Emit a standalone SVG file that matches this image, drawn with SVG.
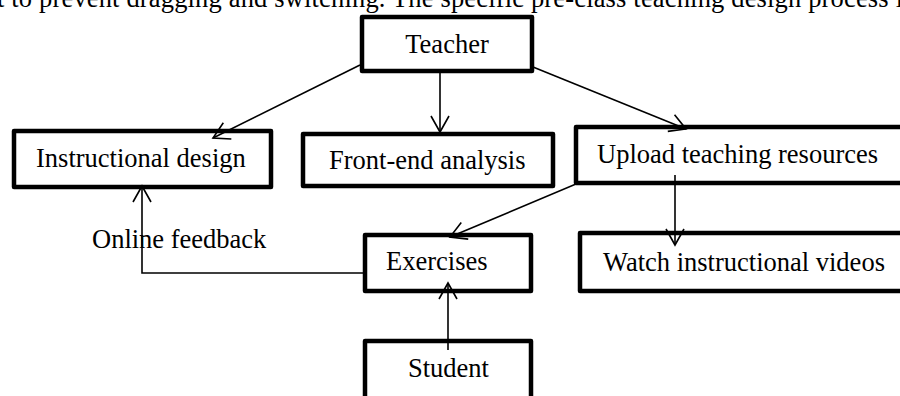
<svg xmlns="http://www.w3.org/2000/svg" width="900" height="396" viewBox="0 0 900 396">
<style>
.box{fill:#fff;stroke:#000;stroke-width:4.5;stroke-linejoin:round}
.t{font-family:"Liberation Serif","Times New Roman",serif;font-size:26.5px;fill:#000}
.c{fill:none;stroke:#000;stroke-width:1.6}
</style>
<defs>
<marker id="ah" markerUnits="userSpaceOnUse" markerWidth="22" markerHeight="22" viewBox="0 0 22 22" refX="19" refY="11" orient="auto">
<path d="M3,2 L19,11 L3,20" fill="none" stroke="#000" stroke-width="1.6"/>
</marker>
</defs>
<rect width="900" height="396" fill="#fff"/>
<text class="t" x="-3" y="7" textLength="906" lengthAdjust="spacing">t to prevent dragging and switching. The specific pre-class teaching design process i</text>
<g id="teacher"><rect class="box" x="362" y="17" width="170" height="54"/><text class="t" x="447" y="53" text-anchor="middle">Teacher</text></g>
<g id="instructional-design"><rect class="box" x="14" y="131" width="257" height="56"/><text class="t" x="36" y="167">Instructional design</text></g>
<g id="front-end-analysis"><rect class="box" x="303" y="134" width="250" height="52"/><text class="t" x="329" y="169">Front-end analysis</text></g>
<g id="upload"><rect class="box" x="576" y="127" width="340" height="56"/><text class="t" x="597" y="163">Upload teaching resources</text></g>
<g id="exercises"><rect class="box" x="365" y="235" width="166" height="56"/><text class="t" x="386" y="270">Exercises</text></g>
<g id="watch"><rect class="box" x="580" y="233" width="340" height="58"/><text class="t" x="603" y="271">Watch instructional videos</text></g>
<g id="student"><rect class="box" x="365" y="341" width="166" height="80"/><text class="t" x="408" y="377">Student</text></g>
<g id="connectors">
<line class="c" x1="360" y1="65" x2="213" y2="138" marker-end="url(#ah)"/>
<line class="c" x1="440" y1="73" x2="440" y2="132" marker-end="url(#ah)"/>
<line class="c" x1="533" y1="67" x2="686" y2="129" marker-end="url(#ah)"/>
<line class="c" x1="576" y1="184" x2="450" y2="237" marker-end="url(#ah)"/>
<line class="c" x1="675" y1="175" x2="675" y2="245" marker-end="url(#ah)"/>
<line class="c" x1="448" y1="350" x2="448" y2="283" marker-end="url(#ah)"/>
<polyline class="c" points="363,273 142,273 142,186" marker-end="url(#ah)"/>
<text class="t" x="92" y="248">Online feedback</text>
</g>
</svg>
